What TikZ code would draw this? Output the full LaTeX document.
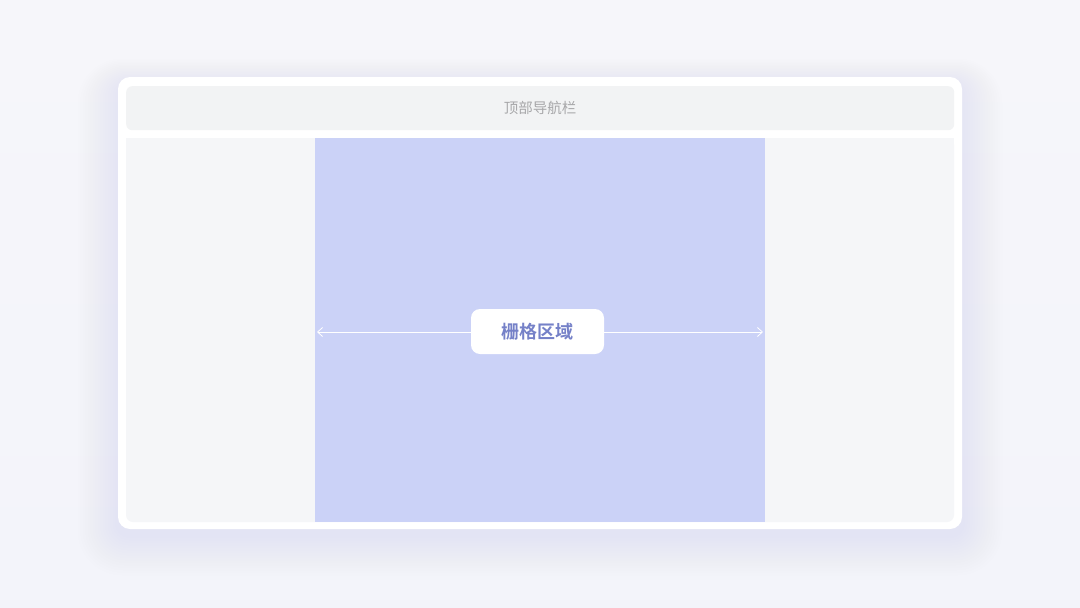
\documentclass[tikz,border=0pt]{standalone}
\usepackage{fontspec}
\newfontfamily\cjk{Noto Sans CJK SC}
\newfontfamily\cjkbold{Noto Sans CJK SC}[BoldFont={* Bold}]
\usetikzlibrary{arrows.meta}
\definecolor{bgtop}{HTML}{F6F6FA}
\definecolor{bgbot}{HTML}{F3F4FA}
\definecolor{shadowc}{HTML}{D4D8F4}
\definecolor{headc}{HTML}{F2F3F4}
\definecolor{bodyc}{HTML}{F5F6F8}
\definecolor{gridc}{HTML}{CBD2F7}
\definecolor{labelc}{HTML}{7581C8}
\definecolor{headtxt}{HTML}{A7A7A9}
\tikzset{
  panel/.style={draw=none},
  labelbox/.style={fill=white, rounded corners=9pt, minimum width=133pt, minimum height=45pt, inner sep=0pt, font=\cjkbold\bfseries\fontsize{18}{20}\selectfont, text=labelc},
  headtext/.style={font=\cjk\fontsize{14.5}{16}\selectfont, text=headtxt},
  span/.style={draw=white, line width=0.8pt, {Straight Barb[length=5pt,width=9pt]}-{Straight Barb[length=5pt,width=9pt]}}
}
\begin{document}
\begin{tikzpicture}[x=1pt,y=-1pt]
\useasboundingbox (0,0) rectangle (1080,608);
\shade[top color=bgtop, bottom color=bgbot] (0,0) rectangle (1080,608);
% soft shadow
\foreach \i in {1,...,16}{
  \fill[shadowc, opacity=0.018, rounded corners={12pt+\i*2pt}] (118-\i*2.5,77-\i*1.5+6) rectangle (962+\i*2.5,529+\i*2.5+6);
}
% card
\fill[white, rounded corners=12pt] (118,77) rectangle (962,529);
% header
\node[panel, fill=headc, rounded corners=6pt, minimum width=828pt, minimum height=44pt, anchor=north west, inner sep=0pt] (head) at (126,86) {};
\node[headtext] (headlbl) at (head.center) {顶部导航栏};
% body
\fill[bodyc, rounded corners=7pt] (126,138) -- (126,522) -- (954,522) -- (954,138) [sharp corners] -- cycle;
\fill[bodyc] (126,138) rectangle (954,150);
% grid area
\node[panel, fill=gridc, minimum width=450pt, minimum height=384pt, anchor=north west, inner sep=0pt] (grid) at (315,138) {};
\coordinate (aL) at (317,332);
\coordinate (aR) at (763,332);
\draw[span] (aL) -- (aR);
\node[labelbox] (lbl) at (537.5,331.5) {栅格区域};
\end{tikzpicture}
\end{document}
